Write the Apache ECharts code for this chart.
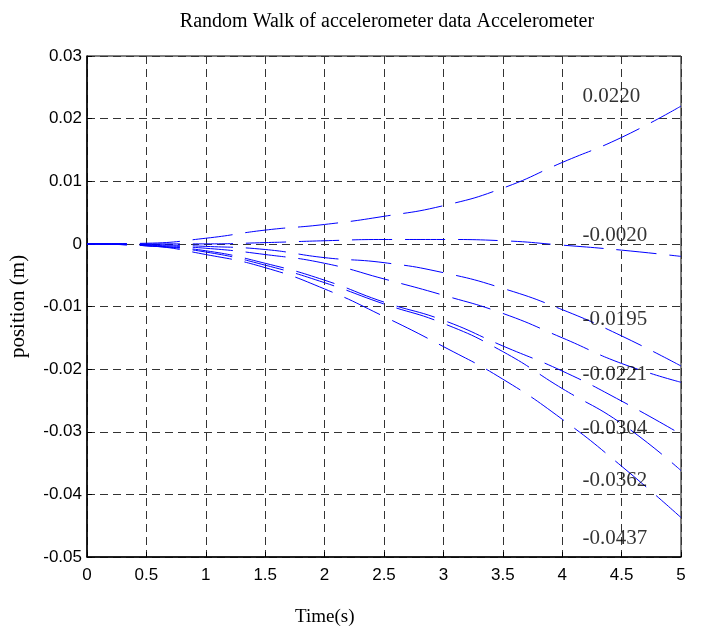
<!DOCTYPE html>
<html>
<head>
<meta charset="utf-8">
<script src="https://cdn.jsdelivr.net/npm/echarts@6/dist/echarts.min.js"></script>
<style>html,body{margin:0;padding:0;background:#fff}#c{width:704px;height:639px}</style>
</head>
<body>
<div id="c"></div>
<script>
// ---- data ----
const times = [0, 0.5, 1, 1.5, 2, 2.5, 3, 3.5, 4, 4.5, 5];
const walkA = [0, 0.0001, 0.0009, 0.0022, 0.0031, 0.0044, 0.0061, 0.0089, 0.0130, 0.0170, 0.0220];
const walkB = [0, 0, 0, 0.0002, 0.0005, 0.0007, 0.0007, 0.0005, -0.0002, -0.0010, -0.0020];
const walkC = [0, -0.0001, -0.0004, -0.0009, -0.0022, -0.0030, -0.0046, -0.0071, -0.0105, -0.0147, -0.0195];
const walkD = [0, -0.0002, -0.0007, -0.0017, -0.0031, -0.0056, -0.0082, -0.0111, -0.0150, -0.0191, -0.0221];
const walkE = [0, -0.0003, -0.0011, -0.0031, -0.0058, -0.0093, -0.0122, -0.0163, -0.0203, -0.0251, -0.0304];
const walkF = [0, -0.0003, -0.0013, -0.0034, -0.0062, -0.0096, -0.0127, -0.0172, -0.0231, -0.0287, -0.0362];
const walkG = [0, -0.0003, -0.0017, -0.0038, -0.0072, -0.0116, -0.0164, -0.0216, -0.0280, -0.0355, -0.0437];
const endLabels = ['0.0220', '-0.0020', '-0.0195', '-0.0221', '-0.0304', '-0.0362', '-0.0437'];
const labelAnchorT = 4.17;
const labelAnchorY = [0.0235, 0.0014, -0.0120, -0.0209, -0.0294, -0.0378, -0.0470];
const xTicks = [0, 0.5, 1, 1.5, 2, 2.5, 3, 3.5, 4, 4.5, 5];
const yTicks = [-0.05, -0.04, -0.03, -0.02, -0.01, 0, 0.01, 0.02, 0.03];

const walks = [walkA, walkB, walkC, walkD, walkE, walkF, walkG];

const chart = echarts.init(document.getElementById('c'), null, {renderer: 'canvas'});
const gridDash = {color: '#333', type: [8, 5], width: 1};
const series = walks.map(w => ({
  type: 'line',
  data: times.map((t, i) => [t, w[i]]),
  smooth: true,
  showSymbol: false,
  symbol: 'none',
  silent: true,
  lineStyle: {color: '#0000ff', width: 1, type: [40, 13]},
  z: 3
}));
series.push({
  type: 'scatter',
  symbolSize: 0,
  silent: true,
  z: 5,
  data: endLabels.map((s, i) => ({value: [labelAnchorT, labelAnchorY[i]], name: s})),
  label: {
    show: true,
    position: [0, 0],
    align: 'left',
    verticalAlign: 'middle',
    formatter: p => p.name,
    fontFamily: 'Liberation Serif',
    fontSize: 21,
    color: '#000'
  }
});

chart.setOption({
  animation: false,
  backgroundColor: '#fff',
  title: {
    text: 'Random Walk of accelerometer data Accelerometer',
    left: 382,
    top: 7,
    textAlign: 'center',
    textStyle: {fontFamily: 'Liberation Serif', fontSize: 20, fontWeight: 'normal', color: '#000'}
  },
  grid: {left: 84, right: 23, top: 56, bottom: 82, show: true, borderColor: '#000', borderWidth: 1, backgroundColor: 'transparent'},
  xAxis: {
    type: 'value', min: 0, max: 5, interval: 0.5,
    axisLine: {show: true, onZero: false, lineStyle: {color: '#000', width: 1.5}},
    axisTick: {show: true, inside: true, length: 5, lineStyle: {color: '#000'}},
    axisLabel: {fontFamily: 'Liberation Sans', fontSize: 17, color: '#000', margin: 10,
      formatter: v => String(+v.toFixed(1))},
    splitLine: {show: true, lineStyle: gridDash}
  },
  yAxis: {
    type: 'value', min: -0.05, max: 0.03, interval: 0.01,
    name: 'position (m)', nameLocation: 'middle', nameGap: 58,
    nameTextStyle: {fontFamily: 'Liberation Serif', fontSize: 21, color: '#000'},
    axisLine: {show: true, onZero: false, lineStyle: {color: '#000', width: 1.5}},
    axisTick: {show: true, inside: true, length: 5, lineStyle: {color: '#000'}},
    axisLabel: {fontFamily: 'Liberation Sans', fontSize: 17, color: '#000', margin: 5,
      formatter: v => { const r = +v.toFixed(2); return r === 0 ? '0' : String(r); }},
    splitLine: {show: true, lineStyle: gridDash}
  },
  graphic: [{
    type: 'text', left: 295, top: 608,
    style: {text: 'Time(s)', font: '19px "Liberation Serif"', fill: '#000'}
  }],
  series: series
});
</script>
</body>
</html>
